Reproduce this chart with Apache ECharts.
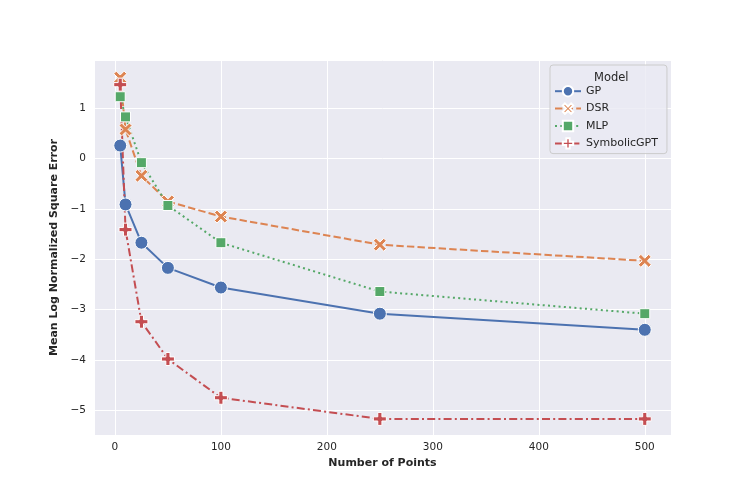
<!DOCTYPE html>
<html>
<head>
<meta charset="utf-8">
<script src="https://cdn.jsdelivr.net/npm/echarts@6/dist/echarts.min.js"></script>
<style>html,body{margin:0;padding:0;background:#fff}#c{width:747px;height:498px}</style>
</head>
<body>
<div id="c"></div>
<script>
var xPoints = [5, 10, 25, 50, 100, 250, 500];
var gp = [0.26, -0.91, -1.67, -2.17, -2.56, -3.08, -3.40];
var dsr = [1.61, 0.58, -0.34, -0.85, -1.15, -1.71, -2.03];
var mlp = [1.23, 0.83, -0.08, -0.93, -1.67, -2.64, -3.08];
var sgpt = [1.47, -1.41, -3.24, -3.98, -4.75, -5.17, -5.17];
var seriesNames = ['GP', 'DSR', 'MLP', 'SymbolicGPT'];

var FONT = 'DejaVu Sans';
var X_PATH = 'path://M2,0 L5,3 L8,0 L10,2 L7,5 L10,8 L8,10 L5,7 L2,10 L0,8 L3,5 L0,2 Z';
var P_PATH = 'path://M3.4,0 H6.6 V3.4 H10 V6.6 H6.6 V10 H3.4 V6.6 H0 V3.4 H3.4 Z';

function pairs(ys) { return xPoints.map(function (x, i) { return [x, ys[i]]; }); }
function mk(name, ys, color, dash, symbol, size) {
  return {
    name: name, type: 'line', data: pairs(ys),
    symbol: symbol, symbolSize: size,
    lineStyle: { color: color, width: 2, type: dash },
    itemStyle: { color: color, borderColor: '#ffffff', borderWidth: 1 },
    emphasis: { disabled: true },
    z: 3
  };
}
function minusFmt(v) { return String(v).replace('-', '\u2212'); }

var chart = echarts.init(document.getElementById('c'), null, { renderer: 'canvas' });
chart.setOption({
  animation: false,
  backgroundColor: '#ffffff',
  textStyle: { fontFamily: FONT },
  title: {
    text: 'Model', left: 589, top: 67,
    textStyle: { fontFamily: FONT, fontSize: 11.5, fontWeight: 'normal', color: '#262626' }
  },
  legend: {
    orient: 'vertical', left: 550, top: 65,
    padding: [20, 9, 4, 4],
    itemWidth: 26, itemHeight: 13, itemGap: 5,
    backgroundColor: 'rgba(234,234,242,0.8)',
    borderColor: '#cccccc', borderWidth: 1, borderRadius: 3,
    textStyle: { fontFamily: FONT, fontSize: 11, color: '#262626' },
    data: seriesNames
  },
  grid: {
    left: 94, right: 76, top: 60, bottom: 63,
    show: true, backgroundColor: '#eaeaf2', borderWidth: 0
  },
  xAxis: {
    type: 'value', min: -19.75, max: 524.75, splitNumber: 5,
    name: 'Number of Points', nameLocation: 'middle', nameGap: 22,
    nameTextStyle: { fontFamily: FONT, fontSize: 11, fontWeight: 'bold', color: '#262626' },
    axisLine: { show: false }, axisTick: { show: false },
    axisLabel: { fontFamily: FONT, fontSize: 10.5, color: '#262626', margin: 7, showMinLabel: false, showMaxLabel: false },
    splitLine: { show: true, lineStyle: { color: '#ffffff', width: 1 } }
  },
  yAxis: {
    type: 'value', min: -5.49, max: 1.96, splitNumber: 7,
    name: 'Mean Log Normalized Square Error', nameLocation: 'middle', nameGap: 28,
    nameTextStyle: { fontFamily: FONT, fontSize: 11, fontWeight: 'bold', color: '#262626' },
    axisLine: { show: false }, axisTick: { show: false },
    axisLabel: { fontFamily: FONT, fontSize: 10.5, color: '#262626', margin: 8, showMinLabel: false, showMaxLabel: false, formatter: minusFmt },
    splitLine: { show: true, lineStyle: { color: '#ffffff', width: 1 } }
  },
  series: [
    mk('GP', gp, '#4c72b0', 'solid', 'circle', 13),
    mk('DSR', dsr, '#dd8452', [7.4, 3.2], X_PATH, 13),
    mk('MLP', mlp, '#55a868', [2, 3.3], 'rect', 10),
    mk('SymbolicGPT', sgpt, '#c44e52', [8, 3.2, 2, 3.2], P_PATH, 13)
  ]
});
</script>
</body>
</html>
